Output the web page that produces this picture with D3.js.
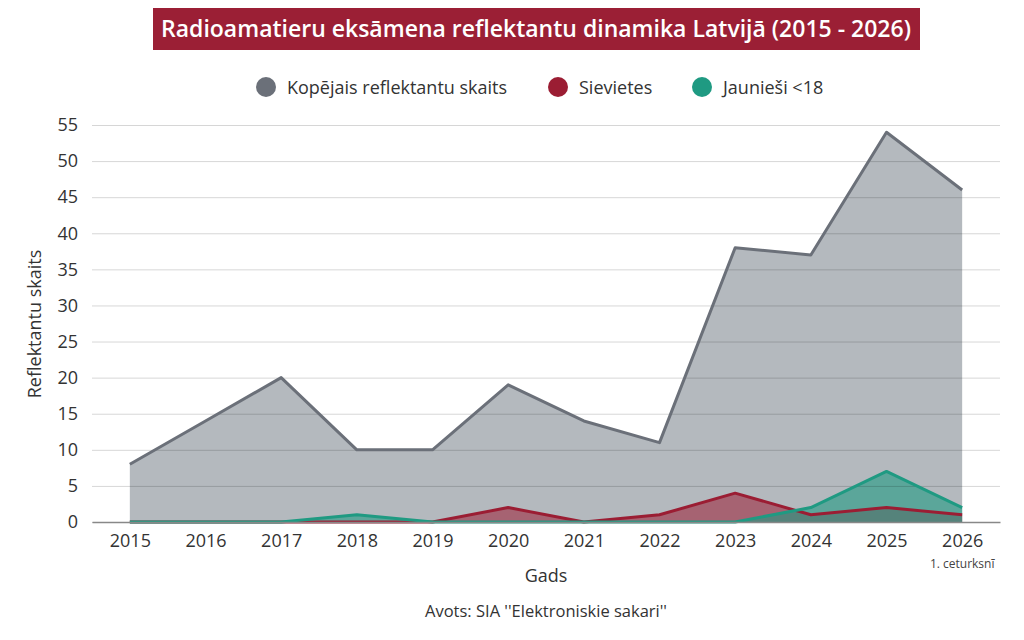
<!DOCTYPE html>
<html>
<head>
<meta charset="utf-8">
<script src="https://cdn.jsdelivr.net/npm/d3@7"></script>
<style>
  body { margin: 0; background: #fff; }
  text { font-family: "Open Sans", "Noto Sans", sans-serif; }
</style>
</head>
<body>
<svg id="chart" width="1024" height="640"></svg>
<script>
const years = ["2015", "2016", "2017", "2018", "2019", "2020", "2021", "2022", "2023", "2024", "2025", "2026"];
const total = [8, 14, 20, 10, 10, 19, 14, 11, 38, 37, 54, 46];
const women = [0, 0, 0, 0, 0, 2, 0, 1, 4, 1, 2, 1];
const youth = [0, 0, 0, 1, 0, 0, 0, 0, 0, 2, 7, 2];
const yTicks = [0, 5, 10, 15, 20, 25, 30, 35, 40, 45, 50, 55];

const series = [
  { name: "Kopējais reflektantu skaits", values: total, line: "#6b7079", fill: "#b4b9be", opacity: 1 },
  { name: "Sievietes", values: women, line: "#9b1d33", fill: "#9b1d33", opacity: 0.55 },
  { name: "Jaunieši <18", values: youth, line: "#1f9a82", fill: "#1f9a82", opacity: 0.6 }
];

const svg = d3.select("#chart");
const plotLeft = 92, plotRight = 1000, plotTop = 125, plotBottom = 522;

let x = d3.scalePoint().domain(years).range([plotLeft, plotRight]).padding(0.5);
let y = d3.scaleLinear().domain([0, 55]).range([plotBottom, plotTop]);

// title box
svg.append("rect")
  .attr("x", 153).attr("y", 8).attr("width", 767).attr("height", 42)
  .attr("fill", "#9b1f35");
svg.append("text")
  .attr("x", 536).attr("y", 37)
  .attr("text-anchor", "middle")
  .attr("fill", "#fff")
  .attr("font-size", "23px")
  .attr("font-weight", "600")
  .text("Radioamatieru eksāmena reflektantu dinamika Latvijā (2015 - 2026)");

// legend
const legendX = [266, 558, 702];
series.forEach((s, i) => {
  svg.append("circle")
    .attr("cx", legendX[i]).attr("cy", 87).attr("r", 10)
    .attr("fill", s.line);
  svg.append("text")
    .attr("x", legendX[i] + 21).attr("y", 94)
    .attr("font-size", "18px")
    .attr("fill", "#333")
    .text(s.name);
});

// areas
series.forEach((s) => {
  let area = d3.area()
    .x((d, i) => x(years[i]))
    .y0(y(0))
    .y1((d) => y(d));
  svg.append("path")
    .datum(s.values)
    .attr("d", area)
    .attr("fill", s.fill)
    .attr("fill-opacity", s.opacity);
});

// grid + y axis (drawn over the areas, semi-transparent)
let yAxis = d3.axisLeft(y).tickValues(yTicks).tickSize(-(plotRight - plotLeft)).tickPadding(14);
let gy = svg.append("g").attr("transform", `translate(${plotLeft},0)`).call(yAxis);
gy.select(".domain").remove();
gy.selectAll(".tick line").attr("stroke", "#000").attr("stroke-opacity", 0.16);
gy.selectAll(".tick text")
  .attr("font-size", "18px").attr("fill", "#333")
  .attr("font-family", "'Open Sans', 'Noto Sans', sans-serif");

// lines
series.forEach((s) => {
  let line = d3.line()
    .x((d, i) => x(years[i]))
    .y((d) => y(d));
  svg.append("path")
    .datum(s.values)
    .attr("d", line)
    .attr("fill", "none")
    .attr("stroke", s.line)
    .attr("stroke-width", 3)
    .attr("stroke-linejoin", "round");
});

// x axis
let xAxis = d3.axisBottom(x).tickSize(0).tickPadding(12);
let gx = svg.append("g").attr("transform", `translate(0,${plotBottom})`).call(xAxis);
gx.select(".domain").attr("stroke", "#888").attr("stroke-width", 1.5);
gx.selectAll(".tick text")
  .attr("font-size", "18px").attr("fill", "#333")
  .attr("font-family", "'Open Sans', 'Noto Sans', sans-serif");

svg.append("text")
  .attr("x", x("2026")).attr("y", 568)
  .attr("text-anchor", "middle")
  .attr("font-size", "12px").attr("fill", "#444")
  .text("1. ceturksnī");

// axis titles
svg.append("text")
  .attr("transform", "translate(41,324) rotate(-90)")
  .attr("text-anchor", "middle")
  .attr("font-size", "18px").attr("fill", "#333")
  .text("Reflektantu skaits");

svg.append("text")
  .attr("x", 546).attr("y", 582)
  .attr("text-anchor", "middle")
  .attr("font-size", "18px").attr("fill", "#333")
  .text("Gads");

svg.append("text")
  .attr("x", 546).attr("y", 617)
  .attr("text-anchor", "middle")
  .attr("font-size", "16.5px").attr("fill", "#333")
  .text("Avots: SIA ''Elektroniskie sakari''");
</script>
</body>
</html>
